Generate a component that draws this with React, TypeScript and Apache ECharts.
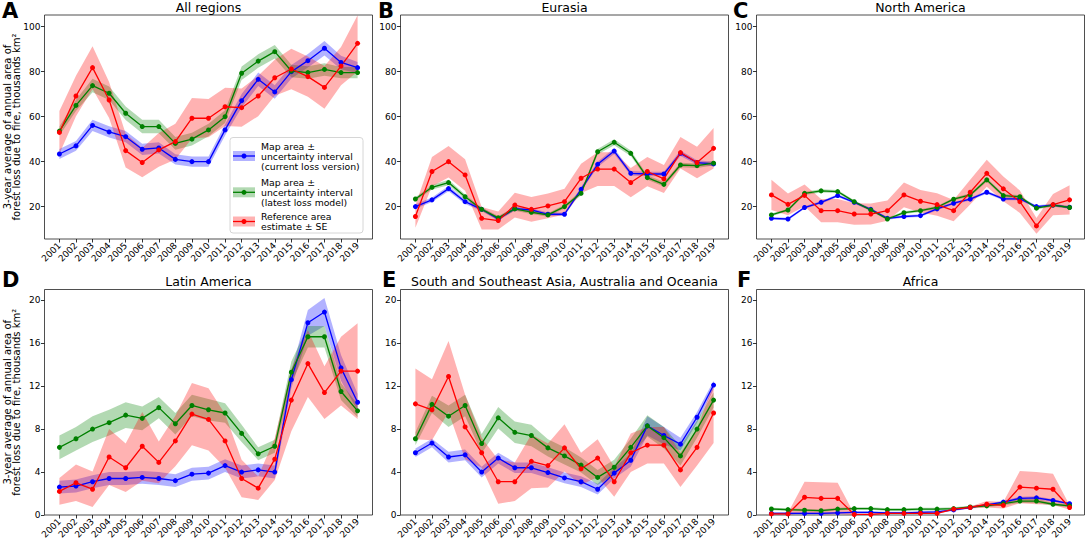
import React, { useEffect, useRef } from "react";
import * as echarts from "echarts";

const years = [2001, 2002, 2003, 2004, 2005, 2006, 2007, 2008, 2009, 2010, 2011, 2012, 2013, 2014, 2015, 2016, 2017, 2018, 2019];
const yTicksTop = [20, 40, 60, 80, 100];
const yTicksBottom = [0, 4, 8, 12, 16, 20];

const panelTitles = ["All regions", "Eurasia", "North America", "Latin America", "South and Southeast Asia, Australia and Oceania", "Africa"];
const panelLetters = ["A", "B", "C", "D", "E", "F"];
const legendLabels = [
  "Map area ±\nuncertainty interval\n(current loss version)",
  "Map area ±\nuncertainty interval\n(latest loss model)",
  "Reference area\nestimate ± SE",
];
const yLabelLines = ["3-year average of annual area of", "forest loss due to fire, thousands km²"];

// A: All regions
const allCurrent = [43.4, 47, 56.1, 53.2, 51.1, 45.5, 46.1, 41, 40, 40, 54.1, 67.1, 76.6, 71, 80, 84.9, 90.4, 84.1, 81.8];
const allCurrentUnc = [2.2, 2.2, 2.5, 2.5, 2.5, 2.5, 2.5, 2.3, 2.3, 2.3, 2.5, 3, 3, 3, 3, 3, 3.2, 3, 2.5];
const allLatest = [53.6, 65, 73.8, 70.4, 61.5, 55.6, 55.6, 48.1, 50, 54.1, 60, 79.3, 84.7, 88.9, 80.3, 79.6, 81, 79.6, 79.6];
const allLatestUnc = [2, 2.5, 3, 3, 3, 3, 3, 2.8, 2.8, 2.8, 2.8, 3, 3, 3, 2.8, 2.8, 2.8, 2.5, 2.5];
const allRef = [53, 69.2, 81.8, 67.4, 44.9, 39.6, 45.2, 48.9, 59.3, 59.3, 64.4, 64, 69.2, 77.3, 81.2, 77.8, 73, 82.5, 92.6];
const allRefSE = [9.5, 9, 9.5, 8, 7.5, 6.5, 7.5, 8, 9, 8.5, 8.5, 8.5, 9, 8, 9, 9, 9.5, 8.5, 12.5];

// B: Eurasia
const eurCurrent = [20, 23, 28, 22.2, 18.8, 14.5, 19.1, 18.5, 16.6, 16.6, 27.7, 38.8, 44.7, 34.8, 34.5, 34.5, 43.7, 39.6, 39];
const eurCurrentUnc = [1, 1, 1.2, 1, 0.8, 0.8, 0.8, 0.8, 0.8, 0.8, 1, 1.2, 1.3, 1, 1, 1, 1.2, 1, 1];
const eurLatest = [23.4, 28.6, 30.7, 24.4, 18.8, 15, 19, 17.5, 16.3, 20, 25.9, 44.4, 48.6, 43.7, 32.9, 29.9, 38.5, 38.2, 39.3];
const eurLatestUnc = [0.8, 1, 1.2, 1, 0.8, 0.8, 0.8, 0.8, 0.8, 0.8, 1, 1.2, 1.3, 1.2, 1, 1, 1, 1, 1];
const eurRef = [15.6, 35.6, 40, 34.1, 14.8, 13.8, 20.7, 18.8, 20.3, 22.2, 32.6, 36.7, 36.7, 30.7, 35.6, 32.3, 44, 39.6, 45.9];
const eurRefSE = [5, 6.5, 7, 7, 5, 4, 5.5, 5.5, 5.5, 5.75, 6.5, 7.5, 7.5, 6.5, 6.5, 6.25, 7, 7, 9];

// C: North America
const naCurrent = [14.8, 14.5, 19.6, 21.9, 24.9, 21.9, 18.8, 14.8, 15.6, 16, 19, 21.5, 23.3, 26.4, 23.4, 23.4, 20, 20.7, 19.7];
const naCurrentUnc = [0.6, 0.6, 0.6, 0.6, 0.6, 0.6, 0.6, 0.6, 0.6, 0.6, 0.6, 0.6, 0.6, 0.7, 0.6, 0.6, 0.6, 0.6, 0.6];
const naLatest = [16.3, 18.5, 25.9, 27, 26.7, 22.2, 18.5, 14.5, 17.3, 18.2, 19.7, 23.3, 25.2, 31.9, 24.9, 24.4, 19.3, 20.7, 19.6];
const naLatestUnc = [0.6, 0.6, 0.7, 0.7, 0.7, 0.6, 0.6, 0.6, 0.6, 0.6, 0.6, 0.6, 0.7, 0.8, 0.7, 0.7, 0.6, 0.6, 0.6];
const naRef = [25.2, 21, 25, 18.2, 18.2, 16.7, 16.7, 18.2, 25.2, 22.4, 20.9, 18.2, 26.4, 34.8, 27.9, 22.2, 11.4, 20.9, 23];
const naRefSE = [6.7, 4.8, 4.8, 5.2, 5.2, 4.8, 4.7, 4.5, 5.5, 5, 5, 4.7, 5.5, 6, 5.5, 5, 3.5, 4.7, 6.5];

// D: Latin America
const laCurrent = [2.6, 2.7, 3.1, 3.4, 3.4, 3.5, 3.4, 3.2, 3.8, 3.9, 4.6, 4.0, 4.2, 4.0, 12.6, 17.9, 18.9, 13.7, 10.5];
const laCurrentUnc = [0.6, 0.6, 0.6, 0.6, 0.6, 0.6, 0.6, 0.6, 0.6, 0.6, 0.6, 0.6, 0.6, 0.6, 0.8, 1.2, 1.3, 1.2, 0.8];
const laLatest = [6.3, 7.1, 8, 8.6, 9.3, 9.0, 10, 8.5, 10.2, 9.8, 9.5, 7.6, 5.7, 6.4, 13.3, 16.6, 16.6, 11.5, 9.7];
const laLatestUnc = [1.1, 1.1, 1.2, 1.2, 1.2, 1.1, 1, 1, 1, 1, 0.9, 0.8, 0.6, 0.6, 1, 1, 1, 0.8, 0.6];
const laRef = [2.2, 3.0, 2.4, 5.4, 4.4, 6.4, 4.9, 6.9, 9.4, 8.9, 6.9, 3.4, 2.5, 5.2, 10.7, 14.1, 11.4, 13.4, 13.4];
const laRefSE = [1.25, 1.7, 1.65, 2.6, 2.25, 3.2, 1.95, 2.35, 2.9, 2.9, 2.5, 1.75, 1.1, 1.95, 2.9, 3.1, 2.45, 3.2, 4.45];

// E: South and Southeast Asia, Australia and Oceania
const asCurrent = [5.8, 6.7, 5.4, 5.6, 4.0, 5.3, 4.4, 4.4, 3.95, 3.45, 3.1, 2.4, 3.9, 5.1, 8.3, 7.4, 6.6, 9.1, 12.1];
const asCurrentUnc = [0.4, 0.4, 0.5, 0.5, 0.5, 0.5, 0.5, 0.5, 0.5, 0.5, 0.5, 0.5, 0.5, 0.6, 0.9, 0.8, 0.6, 0.5, 0.4];
const asLatest = [7.1, 10.3, 9.2, 10.2, 6.65, 9.05, 7.7, 7.4, 6.25, 5.5, 4.65, 3.5, 4.45, 6.3, 8.3, 7.2, 5.5, 8.0, 10.7];
const asLatestUnc = [0.6, 0.8, 1, 1, 0.9, 1, 1, 1, 0.8, 0.8, 0.7, 0.7, 0.7, 0.8, 1, 1, 0.9, 0.8, 0.7];
const asRef = [10.35, 9.8, 12.9, 8.2, 5.8, 3.1, 3.1, 5.0, 4.6, 6.25, 4.3, 5.3, 3.1, 5.8, 6.5, 6.5, 4.2, 6.3, 9.5];
const asRefSE = [3.3, 2.85, 3.3, 3, 1.4, 2.05, 1.8, 2.5, 2.05, 2.2, 1.5, 1.75, 1.4, 1.8, 1.7, 1.7, 1.6, 1.7, 2.8];

// F: Africa
const afCurrent = [0.15, 0.15, 0.15, 0.15, 0.2, 0.25, 0.25, 0.2, 0.2, 0.25, 0.3, 0.47, 0.7, 0.95, 1.2, 1.55, 1.6, 1.35, 1.05];
const afCurrentUnc = [0.1, 0.1, 0.1, 0.1, 0.1, 0.1, 0.1, 0.1, 0.1, 0.1, 0.1, 0.1, 0.1, 0.1, 0.12, 0.15, 0.15, 0.12, 0.1];
const afLatest = [0.56, 0.5, 0.45, 0.4, 0.55, 0.6, 0.6, 0.5, 0.5, 0.55, 0.55, 0.6, 0.75, 0.85, 1.05, 1.3, 1.3, 1.0, 0.85];
const afLatestUnc = [0.12, 0.12, 0.12, 0.12, 0.12, 0.12, 0.12, 0.12, 0.12, 0.12, 0.12, 0.12, 0.12, 0.12, 0.15, 0.18, 0.18, 0.15, 0.12];
const afRef = [0.1, 0.1, 1.65, 1.55, 1.55, 0.05, 0.05, 0.15, 0.15, 0.15, 0.15, 0.55, 0.7, 1.0, 0.9, 2.6, 2.5, 2.4, 0.7];
const afRefSE = [0.1, 0.1, 1.45, 1.5, 1.45, 0.05, 0.05, 0.05, 0.05, 0.05, 0.05, 0.1, 0.1, 0.3, 0.3, 1.5, 1.5, 1.45, 0.2];

const panelData = [
  [allCurrent, allCurrentUnc, allLatest, allLatestUnc, allRef, allRefSE],
  [eurCurrent, eurCurrentUnc, eurLatest, eurLatestUnc, eurRef, eurRefSE],
  [naCurrent, naCurrentUnc, naLatest, naLatestUnc, naRef, naRefSE],
  [laCurrent, laCurrentUnc, laLatest, laLatestUnc, laRef, laRefSE],
  [asCurrent, asCurrentUnc, asLatest, asLatestUnc, asRef, asRefSE],
  [afCurrent, afCurrentUnc, afLatest, afLatestUnc, afRef, afRefSE],
];

const LINE_COLORS = ["#0000ff", "#008000", "#ff0000"];
const BAND_COLORS = ["rgba(0,0,255,0.3)", "rgba(0,128,0,0.3)", "rgba(255,0,0,0.3)"];
const FONT = "DejaVu Sans";

const colLefts = [44.5, 400.5, 756.5];
const colWidth = 328;
const rowTops = [15, 289.5];
const rowHeights = [224, 225.5];

function bandSeries(idx: number, mean: number[], unc: number[], color: string) {
  const lo = mean.map((v, i) => Math.max(0, v - unc[i]));
  const hi = mean.map((v, i) => v + unc[i]);
  return {
    type: "custom", xAxisIndex: idx, yAxisIndex: idx, silent: true, z: 1,
    data: years.map((y, i) => [y, lo[i], hi[i]]),
    encode: { x: 0, y: [1, 2] },
    renderItem: (params: any, api: any) => {
      if (params.dataIndex !== 0) return null;
      const upper = years.map((y, i) => api.coord([y, hi[i]]));
      const lower = years.map((y, i) => api.coord([y, lo[i]])).reverse();
      return { type: "polygon", shape: { points: upper.concat(lower) }, style: { fill: color, stroke: "none" } };
    },
  };
}

function lineSeries(idx: number, mean: number[], color: string) {
  return {
    type: "line", xAxisIndex: idx, yAxisIndex: idx, silent: true, z: 3,
    data: years.map((y, i) => [y, mean[i]]),
    symbol: "circle", symbolSize: 5, showSymbol: true,
    itemStyle: { color },
    lineStyle: { color, width: 1.3 },
  };
}

export default function App() {
  const ref = useRef<HTMLDivElement>(null);
  useEffect(() => {
    if (!ref.current) return;
    const chart = echarts.init(ref.current, null, { renderer: "svg" });
    const grids: any[] = [];
    const xAxes: any[] = [];
    const yAxes: any[] = [];
    const series: any[] = [];
    const graphic: any[] = [];

    for (let p = 0; p < 6; p++) {
      const row = Math.floor(p / 3);
      const col = p % 3;
      const left = colLefts[col];
      const top = rowTops[row];
      const height = rowHeights[row];
      grids.push({
        left, top, width: colWidth, height, show: true,
        borderColor: "#222", borderWidth: 0.8, backgroundColor: "transparent",
        containLabel: false, outerBoundsMode: "none",
      });
      xAxes.push({
        type: "value", gridIndex: p, min: 2000.1, max: 2019.9,
        axisLine: { show: false }, splitLine: { show: false },
        axisTick: { show: true, customValues: years, length: 3.5, lineStyle: { color: "#000", width: 0.8 } },
        axisLabel: { customValues: years, rotate: 45, fontSize: 9, color: "#000", margin: 5, fontFamily: FONT, formatter: (v: number) => String(v) },
      });
      const ticks = row === 0 ? yTicksTop : yTicksBottom;
      yAxes.push({
        type: "value", gridIndex: p,
        min: row === 0 ? 5.6 : 0, max: row === 0 ? 105.2 : 21,
        axisLine: { show: false }, splitLine: { show: false },
        axisTick: { show: true, customValues: ticks, length: 3.5, lineStyle: { color: "#000", width: 0.8 } },
        axisLabel: { customValues: ticks, fontSize: 9, color: "#000", margin: 4, fontFamily: FONT },
      });
      const d = panelData[p];
      for (let s = 0; s < 3; s++) {
        series.push(bandSeries(p, d[s * 2], d[s * 2 + 1], BAND_COLORS[s]));
      }
      for (let s = 0; s < 3; s++) {
        series.push(lineSeries(p, d[s * 2], LINE_COLORS[s]));
      }
      graphic.push({
        type: "text", x: left + colWidth / 2, y: row === 0 ? 7.5 : 281.5, z: 10,
        style: { text: panelTitles[p], fontSize: 12.5, fontFamily: FONT, fill: "#000", textAlign: "center", textVerticalAlign: "middle" },
      });
      const letterX = [2, 378, 733][col] + (row === 1 && col > 0 ? 4 : 0);
      graphic.push({
        type: "text", x: letterX, y: row === 0 ? 10.5 : 280, z: 10,
        style: { text: panelLetters[p], fontSize: 21, fontWeight: "bold", fontFamily: FONT, fill: "#000", textAlign: "left", textVerticalAlign: "middle" },
      });
      if (col === 0) {
        const cy = top + height / 2;
        yLabelLines.forEach((t, k) => {
          graphic.push({
            type: "text", x: 7.3 + k * 9.4, y: cy, rotation: Math.PI / 2, z: 10,
            style: { text: t, fontSize: 10, fontFamily: FONT, fill: "#000", textAlign: "center", textVerticalAlign: "middle" },
          });
        });
      }
    }

    const legendChildren: any[] = [
      { type: "rect", shape: { x: 230, y: 137.5, width: 133, height: 95.5, r: 3 }, style: { fill: "rgba(255,255,255,0.85)", stroke: "#cccccc", lineWidth: 0.8 } },
    ];
    const legendYs = [156, 192.3, 221.5];
    legendLabels.forEach((label, k) => {
      const y = legendYs[k];
      legendChildren.push(
        { type: "rect", shape: { x: 233, y: y - 5, width: 22, height: 10 }, style: { fill: BAND_COLORS[k] } },
        { type: "line", shape: { x1: 233, y1: y, x2: 255, y2: y }, style: { stroke: LINE_COLORS[k], lineWidth: 1.3 } },
        { type: "circle", shape: { cx: 244, cy: y, r: 2.5 }, style: { fill: LINE_COLORS[k] } },
        { type: "text", x: 261, y, style: { text: label, fontSize: 9.3, lineHeight: 10, fontFamily: FONT, fill: "#000", textAlign: "left", textVerticalAlign: "middle" } },
      );
    });
    graphic.push({ type: "group", z: 20, children: legendChildren });

    chart.setOption({
      animation: false,
      textStyle: { fontFamily: FONT },
      grid: grids,
      xAxis: xAxes,
      yAxis: yAxes,
      series,
      graphic,
    });
    return () => chart.dispose();
  }, []);
  return <div ref={ref} style={{ position: "fixed", left: 0, top: 0, width: 1086, height: 541, background: "#fff" }} />;
}
